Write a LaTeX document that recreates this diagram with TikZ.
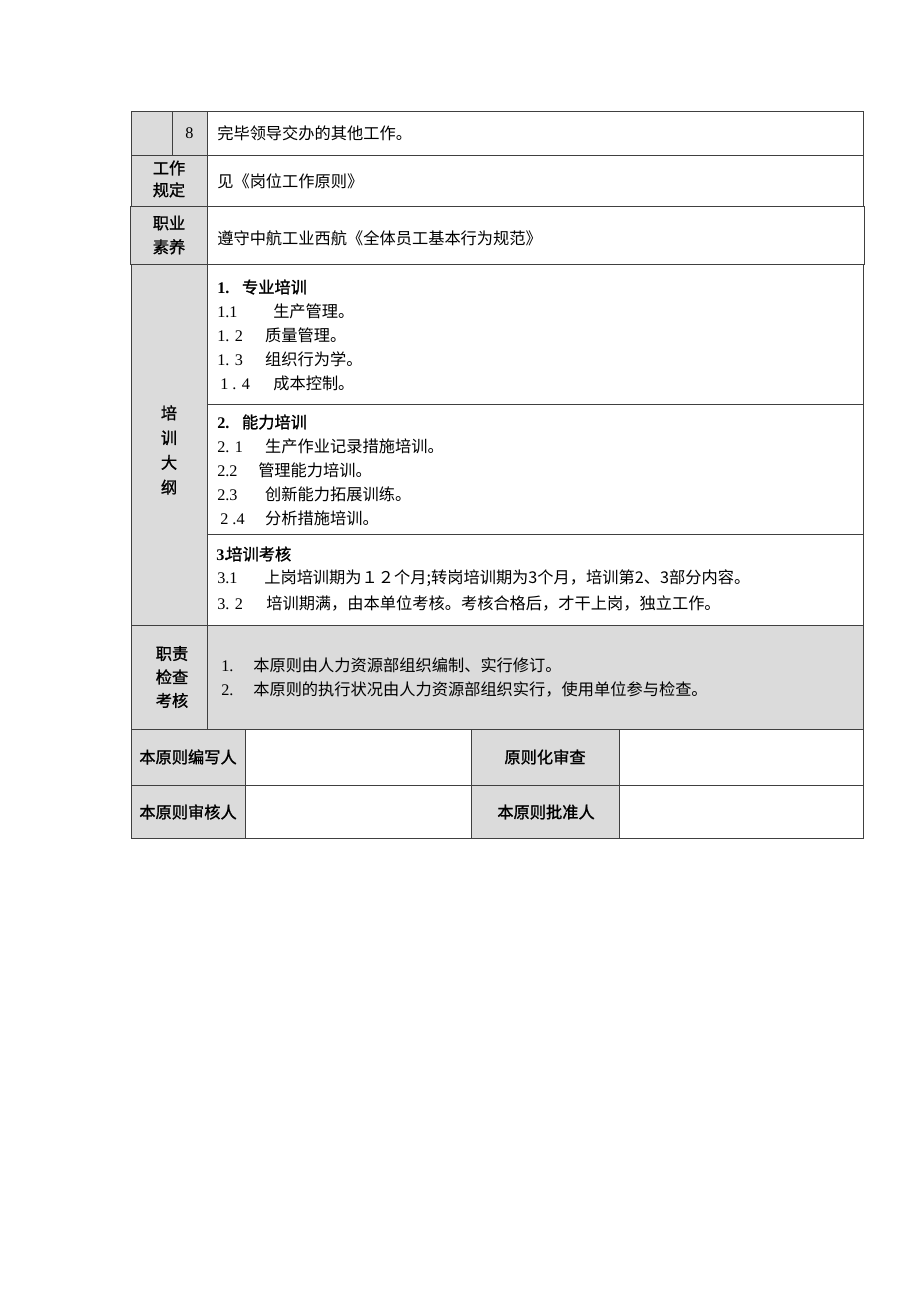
\documentclass[tikz,border=0pt]{standalone}
\usepackage{fontspec}
\setmainfont{Liberation Serif}
\newfontfamily\cjk{Noto Sans CJK SC}
\newfontfamily\cjkhei[FakeBold=1.2]{Noto Sans CJK SC}
\usetikzlibrary{positioning}
\definecolor{cellgray}{rgb}{0.86,0.86,0.86}
\definecolor{rulegray}{rgb}{0.25,0.25,0.25}
\newcommand\numbox[2]{\makebox[#1][l]{\rmfamily #2}}
\tikzstyle{cell}  = [draw=rulegray, line width=0.6pt]
\tikzstyle{shade} = [cell, fill=cellgray]
\tikzstyle{txt}   = [anchor=west, inner sep=0pt, font=\fontsize{10.5}{12}\selectfont\cjk]
\tikzstyle{head}  = [txt, font=\fontsize{10.5}{12}\selectfont\cjkhei]
\tikzstyle{lbl}   = [inner sep=0pt, align=center, font=\fontsize{10.5}{15.5}\selectfont\cjkhei]

\begin{document}
\begin{tikzpicture}[x=0.647pt, y=-0.647pt]

\fill[white] (0,0) rectangle (920,1302);
\useasboundingbox (0,0) rectangle (920,1302);

% row 1
\draw [shade] (131,111) rectangle (172,155);
\draw [shade] (172,111) rectangle (207,155);
\draw [cell ] (207,111) rectangle (863,155);
\node [lbl             ] (eight) at (189.5,133) {\rmfamily\mdseries 8};
\node [txt             ] (r1)    at (217,133)   {完毕领导交办的其他工作。};

% row 2
\draw [shade] (131,155) rectangle (207,206);
\draw [cell ] (207,155) rectangle (863,206);
\node [lbl, font=\fontsize{10.5}{14.2}\selectfont\cjkhei] (gzgd) at (169,179) {工作\\规定};
\node [txt             ] (r2)    at (217,181)   {见《岗位工作原则》};

% row 3
\draw [shade] (130,206) rectangle (207,264);
\draw [cell ] (207,206) rectangle (864,264);
\node [lbl             ] (zyss)  at (169,235)   {职业\\素养};
\node [txt             ] (r3)    at (217,238)   {遵守中航工业西航《全体员工基本行为规范》};

% row 4
\draw [shade] (131,264) rectangle (207,625);
\draw [cell ] (207,264) rectangle (863,404);
\draw [cell ] (207,404) rectangle (863,534);
\draw [cell ] (207,534) rectangle (863,625);
\node [lbl, font=\fontsize{10.5}{16}\selectfont\cjkhei] (pxdg) at (169,450) {培\\训\\大\\纲};

% training 1
\node [head] (h1)  at (217,287) {\numbox{16pt}{\bfseries 1.}专业培训};
\node [txt ] (l11) at (217,311) {\numbox{36.2pt}{1.1}生产管理。};
\node [txt ] (l12) at (217,335) {\numbox{31pt}{1. 2}质量管理。};
\node [txt ] (l13) at (217,359) {\numbox{31pt}{1. 3}组织行为学。};
\node [txt ] (l14) at (220,383) {\numbox{34.3pt}{1 . 4}成本控制。};

% training 2
\node [head] (h2)  at (217,422) {\numbox{16pt}{\bfseries 2.}能力培训};
\node [txt ] (l21) at (217,446) {\numbox{31pt}{2. 1}生产作业记录措施培训。};
\node [txt ] (l22) at (217,470) {\numbox{26.5pt}{2.2}管理能力培训。};
\node [txt ] (l23) at (217,494) {\numbox{31pt}{2.3}创新能力拓展训练。};
\node [txt ] (l24) at (220,518) {\numbox{29pt}{2 .4}分析措施培训。};

% training 3
\node [head] (h3)  at (216,554) {\numbox{6.5pt}{\bfseries 3.}培训考核};
\node [txt ] (l31) at (217,578) {\numbox{30.4pt}{3.1}上岗培训期为１２个月;转岗培训期为3个月，培训第2、3部分内容。};
\node [txt ] (l32) at (217,603) {\numbox{31.7pt}{3. 2}培训期满，由本单位考核。考核合格后，才干上岗，独立工作。};

% row 5
\draw [shade] (131,625) rectangle (207,729);
\draw [shade] (207,625) rectangle (863,729);
\node [lbl, font=\fontsize{10.5}{15.2}\selectfont\cjkhei] (zzjc) at (172,677) {职责\\检查\\考核};
\node [txt ] (r51) at (221,665) {\numbox{20.7pt}{1.}本原则由人力资源部组织编制、实行修订。};
\node [txt ] (r52) at (221,689) {\numbox{20.7pt}{2.}本原则的执行状况由人力资源部组织实行，使用单位参与检查。};

% row 6
\draw [shade] (131,729) rectangle (245,785);
\draw [cell ] (245,729) rectangle (471,785);
\draw [shade] (471,729) rectangle (619,785);
\draw [cell ] (619,729) rectangle (863,785);
\node [lbl ] (bxr) at (188,757) {本原则编写人};
\node [lbl ] (hsc) at (545,757) {原则化审查};

% row 7
\draw [shade] (131,785) rectangle (245,838);
\draw [cell ] (245,785) rectangle (471,838);
\draw [shade] (471,785) rectangle (619,838);
\draw [cell ] (619,785) rectangle (863,838);
\node [lbl ] (bsh) at (188,812) {本原则审核人};
\node [lbl ] (bpz) at (546,812) {本原则批准人};

\end{tikzpicture}
\end{document}
